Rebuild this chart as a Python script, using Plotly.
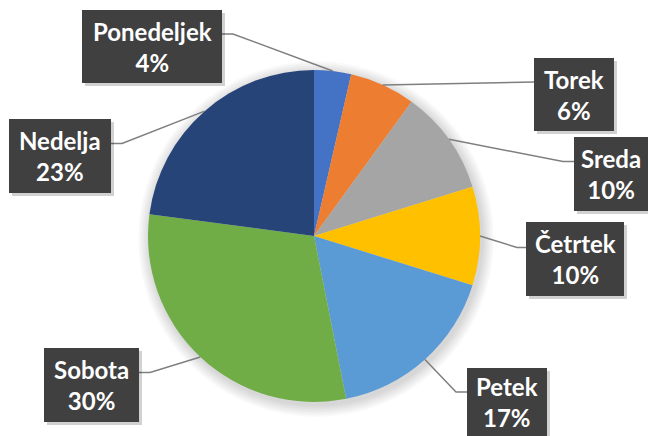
import math
import plotly.graph_objects as go

days = ["Ponedeljek", "Torek", "Sreda", "Četrtek", "Petek", "Sobota", "Nedelja"]
shares = [3.6, 6.4, 10.2, 9.6, 17.1, 30.2, 22.9]
colors = ["#4472C4", "#ED7D31", "#A5A5A5", "#FFC000", "#5B9BD5", "#70AD47", "#264478"]

W, H = 648, 436
CX, CY, R = 314, 236, 166

# label boxes (pixel: x0, y0, x1, y1) and leader elbow points (pixel)
boxes = [
    (82, 10, 222, 83),
    (534, 58, 614, 131),
    (574, 137, 652, 211),
    (526, 222, 624, 296),
    (467, 368, 547, 442),
    (44, 348, 139, 422),
    (9, 119, 111, 193),
]
elbows = [
    [(233, 34), (222, 34)],
    [(534, 82)],
    [(563, 161.5), (574, 161.5)],
    [(517, 247.5), (526, 247.5)],
    [(456, 392), (467, 392)],
    [(150, 372.5), (139, 372.5)],
    [(122, 143.5), (111, 143.5)],
]


def px(x):
    return x / W


def py(y):
    return 1 - y / H


fig = go.Figure(go.Pie(
    labels=days, values=shares, sort=False, direction="clockwise", rotation=0,
    marker=dict(colors=colors, line=dict(color="white", width=0)),
    textinfo="none", hoverinfo="label+percent", showlegend=False,
    domain=dict(x=[px(CX - R), px(CX + R)], y=[py(CY + R), py(CY - R)]),
))

total = sum(shares)
shapes = []
annotations = []

# soft shadow around the pie
for k in range(1, 9):
    rr = R + k * 1.5
    shapes.append(dict(type="circle", xref="paper", yref="paper",
                       x0=px(CX + 2 - rr), x1=px(CX + 2 + rr),
                       y0=py(CY + 3 + rr), y1=py(CY + 3 - rr),
                       fillcolor="rgba(0,0,0,0.018)", line=dict(width=0), layer="below"))

cum = 0.0
for i, (d, v) in enumerate(zip(days, shares)):
    mid = (cum + v / 2) / total * 2 * math.pi
    cum += v
    ex = CX + R * math.sin(mid)
    ey = CY - R * math.cos(mid)
    pts = [(ex, ey)] + elbows[i]
    path = "M " + " L ".join(f"{px(x)},{py(y)}" for x, y in pts)
    shapes.append(dict(type="path", xref="paper", yref="paper", path=path,
                       line=dict(color="#7f7f7f", width=1.5), layer="above"))
    x0, y0, x1, y1 = boxes[i]
    shapes.append(dict(type="rect", xref="paper", yref="paper",
                       x0=px(x0 + 3), x1=px(x1 + 3), y0=py(y1 + 3), y1=py(y0 + 3),
                       fillcolor="rgba(0,0,0,0.18)", line=dict(width=0), layer="above"))
    shapes.append(dict(type="rect", xref="paper", yref="paper",
                       x0=px(x0), x1=px(x1), y0=py(y1), y1=py(y0),
                       fillcolor="#404040", line=dict(width=0), layer="above"))
    pct = round(v / total * 100)
    annotations.append(dict(xref="paper", yref="paper",
                            x=px((x0 + min(x1, W)) / 2), y=py((y0 + min(y1, H)) / 2),
                            text=f"<b>{d}</b><br><b>{pct}%</b>", showarrow=False,
                            font=dict(family="Lato", size=24, color="white"),
                            xanchor="center", yanchor="middle", align="center"))

fig.update_layout(
    width=W, height=H, margin=dict(l=0, r=0, t=0, b=0),
    paper_bgcolor="white", plot_bgcolor="white",
    shapes=shapes, annotations=annotations,
)
fig.write_html("out.html", config={"displayModeBar": False},
               post_script="document.body.style.margin='0';")
